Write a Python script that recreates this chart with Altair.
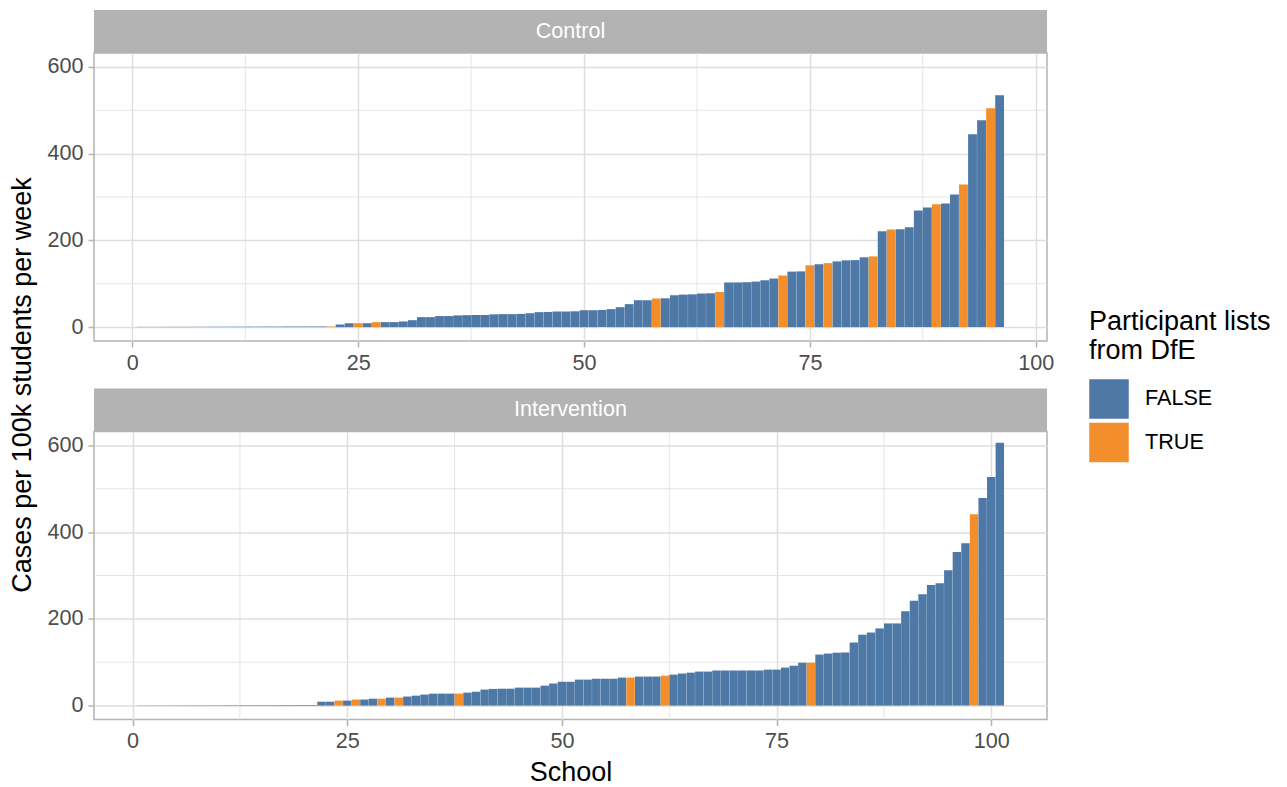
import altair as alt
import pandas as pd

groups = ["Control", "Intervention"]

control_values = [
    0.5, 0.5, 0.6, 0.6, 0.7, 0.7, 0.8, 0.8, 0.9, 0.9,
    1.0, 1.0, 1.1, 1.1, 1.2, 1.2, 1.3, 1.3, 1.4, 1.5,
    1.5, 1.5, 6, 9, 9, 9, 11.5, 11.5, 11.5, 13,
    16, 23, 23, 25.5, 25.5, 27, 27.5, 28, 28, 29.5,
    30, 30, 30.5, 32, 34.5, 35, 36, 36, 36.5, 39,
    39, 39.5, 41.5, 46, 53, 62, 62, 66, 66.5, 73.5,
    75, 75.5, 77.5, 78, 81, 103, 103, 103.5, 105, 108,
    112, 119, 128, 128.5, 142.5, 145, 147.5, 151.5, 154, 154.5,
    161, 163, 221, 225, 225.5, 230, 269, 276, 283, 285,
    306, 329, 444.5, 477, 504.5, 534.5,
]
control_dfe = [22, 25, 27, 58, 65, 72, 75, 77, 82, 84, 89, 92, 95]

intervention_values = [
    0.5, 0.5, 0.6, 0.6, 0.7, 0.7, 0.8, 0.8, 0.9, 0.9,
    1.0, 1.0, 1.1, 1.1, 1.2, 1.2, 1.3, 1.3, 1.4, 1.5,
    1.5, 9, 9, 11.5, 11.5, 14, 14, 16, 16, 18.5,
    18.5, 21, 23, 25.5, 27.5, 27.7, 27.7, 27.7, 30, 32,
    37, 38.5, 39, 39, 41.5, 41.5, 41.5, 46, 51, 55,
    55, 60, 60, 62, 62, 62, 64.6, 64.6, 67, 67,
    67, 69, 71.5, 74, 76, 78.5, 78.5, 81, 81, 81,
    81, 81, 81, 83, 83, 87.7, 92, 99, 99, 117.7,
    120, 122, 122.5, 145.5, 163.5, 168.5, 178, 189.5, 189.5, 217.5,
    242, 257, 278, 282, 312, 354, 374.5, 441, 478.5, 527,
    606,
]
intervention_dfe = [24, 26, 29, 31, 38, 58, 62, 79, 98]

legend_levels = ["FALSE", "TRUE"]
bar_colors = ["#4E79A7", "#F28E2B"]
x_ticks = [0, 25, 50, 75, 100]
x_minor = [12.5, 37.5, 62.5, 87.5]
y_ticks = [0, 200, 400, 600]
y_minor = [100, 300, 500]
y_title = "Cases per 100k students per week"
x_title = "School"
legend_title = ["Participant lists", "from DfE"]

W = 953
H = 288
STRIP = 43
FONT = "Liberation Sans"
GRID = "#DEDEDE"
GREY70 = "#B3B3B3"


def panel(name, values, dfe, first, last):
    n = len(values)
    df = pd.DataFrame({
        "school": list(range(1, n + 1)),
        "value": values,
        "dfe": ["TRUE" if i in dfe else "FALSE" for i in range(1, n + 1)],
    })
    span = (n + 0.45) - 0.55
    xs = alt.Scale(domain=[0.55 - 0.05 * span, n + 0.45 + 0.05 * span], nice=False, zero=False)
    ys = alt.Scale(domain=[-32, 632], nice=False, zero=False)
    x_axis = alt.Axis(values=x_ticks, title=x_title if last else None, grid=True,
                      labelFlush=False)
    y_axis = alt.Axis(values=y_ticks, title=None, grid=True)

    minor_x = alt.Chart(pd.DataFrame({"v": x_minor})).mark_rule(
        color=GRID, strokeWidth=0.8).encode(x=alt.X("v:Q", scale=xs, axis=x_axis))
    minor_y = alt.Chart(pd.DataFrame({"v": y_minor})).mark_rule(
        color=GRID, strokeWidth=0.8).encode(y=alt.Y("v:Q", scale=ys, axis=y_axis))

    bars = alt.Chart(df).transform_calculate(
        x0="datum.school - 0.49", x1="datum.school + 0.49"
    ).mark_rect().encode(
        x=alt.X("x0:Q", scale=xs, axis=x_axis),
        x2="x1:Q",
        y=alt.Y("value:Q", scale=ys, axis=y_axis),
        y2=alt.datum(0),
        color=alt.Color(
            "dfe:N",
            scale=alt.Scale(domain=legend_levels, range=bar_colors),
            legend=alt.Legend(
                title=legend_title, orient="none", legendX=995, legendY=256,
                titleFontSize=27, titleFontWeight="normal", titleColor="black",
                titleLineHeight=29, titlePadding=14, titleFont=FONT, titleLimit=500,
                labelFontSize=21.6, labelColor="black", labelFont=FONT,
                symbolType="square", symbolSize=1560, symbolStrokeWidth=0,
                symbolOpacity=1, rowPadding=3.5, labelOffset=16,
            ),
        ),
    )

    strip_df = pd.DataFrame({"group": [name]})
    strip = alt.Chart(strip_df).mark_rect(color=GREY70).encode(
        x=alt.value(0), x2=alt.value(W), y=alt.value(-STRIP), y2=alt.value(0))
    strip_text = alt.Chart(strip_df).mark_text(
        color="white", fontSize=21.6, font=FONT, baseline="middle").encode(
        x=alt.value(W / 2), y=alt.value(-STRIP / 2), text="group:N")

    layers = [minor_x, minor_y, bars, strip, strip_text]
    if first:
        ytitle = alt.Chart(strip_df).mark_text(
            angle=270, fontSize=27, font=FONT, color="black", baseline="middle",
            align="center").encode(
            x=alt.value(-71), y=alt.value(332), text=alt.value(y_title))
        layers.append(ytitle)
    return alt.layer(*layers).properties(width=W, height=H)


c1 = panel(groups[0], control_values, control_dfe, True, False)
c2 = panel(groups[1], intervention_values, intervention_dfe, False, True)

chart = alt.vconcat(c1, c2, spacing=90.5, bounds="flush").properties(
    padding={"left": 8, "top": 9, "right": 5, "bottom": 5},
    background="white",
).configure(font=FONT).configure_view(
    stroke=GREY70, strokeWidth=1.5
).configure_axis(
    labelFontSize=21.6, labelColor="#4D4D4D", labelFont=FONT,
    tickColor=GREY70, tickSize=6, tickWidth=1.5, domain=False,
    gridColor=GRID, gridWidth=1.5, labelPadding=5,
    titleFontSize=27, titleColor="black", titleFontWeight="normal", titleFont=FONT,
    titlePadding=7,
)

chart.save("out.html", embed_options={"renderer": "svg", "actions": False})
